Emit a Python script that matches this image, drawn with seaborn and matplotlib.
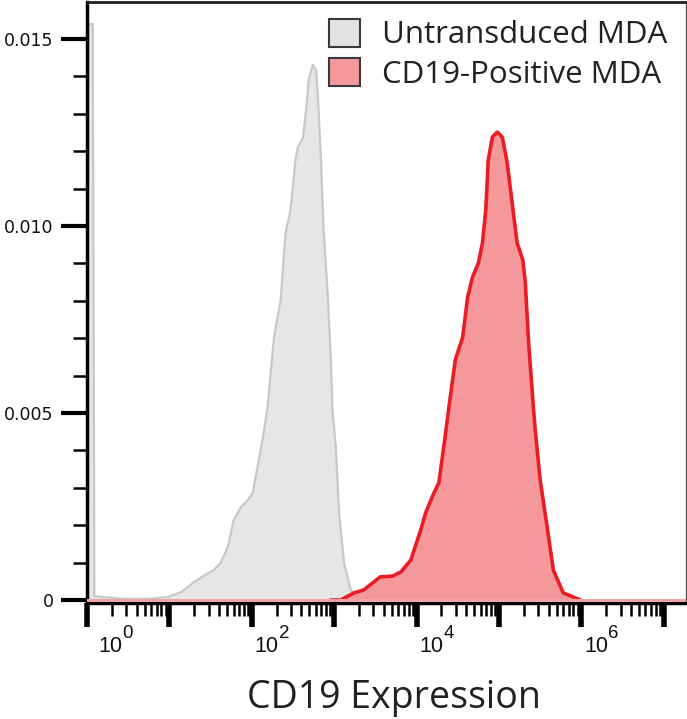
import numpy as np
import pandas as pd
import matplotlib
matplotlib.use("Agg")
import matplotlib.pyplot as plt
import matplotlib.transforms as mtransforms
from matplotlib.patches import Patch
from matplotlib.ticker import FixedLocator, MultipleLocator, NullFormatter
import seaborn as sns

# CD19 staining histograms: log10(intensity) and normalised event density
untransduced_log = [0.00, 0.07, 0.09, 0.45, 0.74, 0.98, 1.14, 1.30, 1.47, 1.54,
                    1.62, 1.71, 1.78, 1.87, 1.95, 2.01, 2.07, 2.13, 2.19, 2.27,
                    2.35, 2.41, 2.47, 2.53, 2.56, 2.62, 2.66, 2.69, 2.74, 2.78,
                    2.80, 2.84, 2.87, 2.92, 2.96, 2.98, 3.02, 3.06, 3.12, 3.20,
                    3.36]
untransduced_density = [0.0154, 0.0154, 0.0001, 0.00003, 0.00003, 0.00008,
                        0.00021, 0.00048, 0.00072, 0.00080, 0.00099, 0.00142,
                        0.00214, 0.00249, 0.00267, 0.00286, 0.00356, 0.00428,
                        0.00513, 0.00703, 0.00802, 0.00981, 0.01043, 0.01177,
                        0.01211, 0.01235, 0.01310, 0.01390, 0.01431, 0.01417,
                        0.01356, 0.01177, 0.00997, 0.00821, 0.00642, 0.00508,
                        0.00409, 0.00233, 0.00099, 0.00027, 0.0]

positive_log = [2.96, 3.08, 3.24, 3.36, 3.56, 3.71, 3.81, 3.93, 4.05, 4.11,
                4.21, 4.27, 4.33, 4.39, 4.47, 4.56, 4.62, 4.68, 4.75, 4.80,
                4.84, 4.87, 4.92, 4.98, 5.04, 5.10, 5.16, 5.22, 5.29, 5.32,
                5.36, 5.42, 5.44, 5.50, 5.59, 5.66, 5.78, 5.99]
positive_density = [0.0, 0.0, 0.00019, 0.00027, 0.00062, 0.00064, 0.00075,
                    0.00107, 0.00187, 0.00233, 0.00286, 0.00313, 0.00409,
                    0.00511, 0.00642, 0.00703, 0.00810, 0.00864, 0.00901,
                    0.00955, 0.01043, 0.01177, 0.01238, 0.01251, 0.01238,
                    0.01169, 0.01062, 0.00955, 0.00909, 0.00848, 0.00687,
                    0.00508, 0.00455, 0.00321, 0.00187, 0.00080, 0.00019, 0.0]

series_labels = ["Untransduced MDA", "CD19-Positive MDA"]
y_tick_values = [0, 0.005, 0.010, 0.015]
y_tick_labels = ["0", "0.005", "0.010", "0.015"]
x_label_exponents = [0, 2, 4, 6]
x_axis_title = "CD19 Expression"

sns.set_style("white")
plt.rcParams["font.family"] = ["Open Sans", "DejaVu Sans"]

untransduced = pd.DataFrame({"expression": np.power(10.0, untransduced_log),
                             "density": untransduced_density})
positive = pd.DataFrame({"expression": np.power(10.0, positive_log),
                         "density": positive_density})

W, H = 687, 719
fig = plt.figure(figsize=(W / 100, H / 100), dpi=100)
ax = fig.add_axes([87 / W, 1 - 603 / H, (686 - 87) / W, (603 - 2) / H])

grey_fill, grey_edge = "#e6e6e6", "#c8c8c8"
red_fill, red_edge = "#f4989b", "#ec1c24"

ax.fill_between(untransduced["expression"], untransduced["density"],
                color=grey_fill, lw=0, zorder=1)
sns.lineplot(data=untransduced, x="expression", y="density", ax=ax,
             sort=False, estimator=None, color=grey_edge, lw=1.6, zorder=2)
ax.fill_between(positive["expression"], positive["density"],
                color=red_fill, lw=0, zorder=3)
sns.lineplot(data=positive, x="expression", y="density", ax=ax,
             sort=False, estimator=None, color=red_edge, lw=2.6, zorder=4)
ax.axhline(0, color="#f2a3a3", lw=2.2, zorder=5)

ax.set_xscale("log")
ax.set_xlim(1, 10 ** 7.27)
ax.set_ylim(-0.00008, 0.01599)

# x ticks: thick decade marks, thin 2..9 marks, labels drawn as 10 + exponent
ax.xaxis.set_major_locator(FixedLocator([10.0 ** k for k in range(0, 8)]))
ax.xaxis.set_minor_locator(FixedLocator(
    [m * 10.0 ** k for k in range(0, 8) for m in range(2, 10)]))
ax.xaxis.set_major_formatter(NullFormatter())
ax.xaxis.set_minor_formatter(NullFormatter())
ax.tick_params(axis="x", which="both", bottom=True, top=False)
ax.tick_params(axis="x", which="major", direction="out", length=17, width=4,
               color="black")
ax.tick_params(axis="x", which="minor", direction="out", length=9, width=1.8,
               color="black")

for e in x_label_exponents:
    nudge = 11 if e == 0 else 3
    base_tr = mtransforms.offset_copy(ax.get_xaxis_transform(), fig=fig,
                                      x=nudge, y=-43, units="dots")
    ax.text(10.0 ** e, 0, "10", transform=base_tr, ha="left", va="center",
            fontsize=15.5, family="Liberation Sans", color="#111111")
    exp_tr = mtransforms.offset_copy(ax.get_xaxis_transform(), fig=fig,
                                     x=nudge + 24, y=-31, units="dots")
    ax.text(10.0 ** e, 0, str(e), transform=exp_tr, ha="left", va="center",
            fontsize=13.5, family="Liberation Sans", color="#111111")

ax.set_yticks(y_tick_values)
ax.set_yticklabels(y_tick_labels, family="DejaVu Sans", fontsize=12.5,
                   color="#111111")
ax.yaxis.set_minor_locator(MultipleLocator(0.001))
ax.tick_params(axis="y", which="both", left=True, right=False)
ax.tick_params(axis="y", which="major", direction="out", length=19, width=3,
               pad=5, color="black")
ax.tick_params(axis="y", which="minor", direction="out", length=10, width=1.8,
               color="black")

for side in ["left", "bottom"]:
    ax.spines[side].set_color("black")
    ax.spines[side].set_linewidth(2.5)
ax.spines["top"].set_color("#222222")
ax.spines["top"].set_linewidth(2)
ax.spines["right"].set_color("#555555")
ax.spines["right"].set_linewidth(1)

ax.set_xlabel(x_axis_title, fontsize=27, labelpad=34, color="#222222")
ax.xaxis.label.set_x(0.513)
ax.set_ylabel("")

handles = [Patch(facecolor="#e3e3e3", edgecolor="#3a3a3a", lw=1.5),
           Patch(facecolor=red_fill, edgecolor="#3a3a3a", lw=1.5)]
ax.legend(handles, series_labels, loc="upper right",
          bbox_to_anchor=(0.99, 0.993), frameon=False, fontsize=22.5,
          handlelength=1.0, handleheight=1.0, handletextpad=0.7,
          labelspacing=0.24, borderaxespad=0, labelcolor="#222222")

fig.savefig("out.png", dpi=100, facecolor="white")
